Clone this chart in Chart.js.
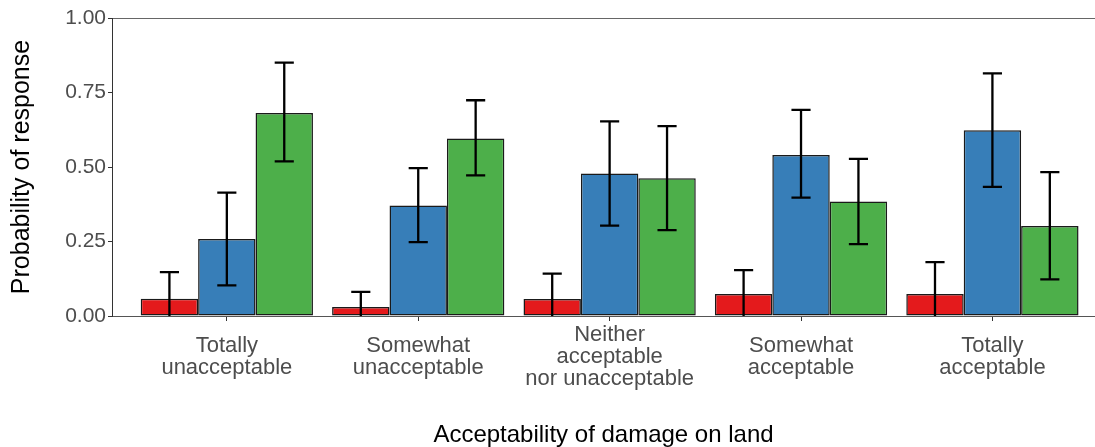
<!DOCTYPE html>
<html lang="en">
<head>
  <meta charset="UTF-8">
  <title>Acceptability of damage on land</title>
  <script src="https://cdn.jsdelivr.net/npm/chart.js"></script>
  <style>
    body {
      margin: 0;
      background: #fff;
    }

    .chart-container {
      position: relative;
      width: 1095px;
      height: 447px;
    }
  </style>
</head>
<body>
  <div class="chart-container">
    <canvas id="probChart"></canvas>
  </div>

  <script>
    const categories = [
      ['Totally', 'unacceptable'],
      ['Somewhat', 'unacceptable'],
      ['Neither', 'acceptable', 'nor unacceptable'],
      ['Somewhat', 'acceptable'],
      ['Totally', 'acceptable']
    ];
    const yTicks = [0, 0.25, 0.5, 0.75, 1];

    const redValues = [0.058, 0.030, 0.057, 0.074, 0.074];
    const redLow = [-0.03, -0.02, -0.03, -0.01, -0.03];
    const redHigh = [0.147, 0.081, 0.142, 0.154, 0.181];

    const blueValues = [0.258, 0.371, 0.478, 0.540, 0.623];
    const blueLow = [0.103, 0.248, 0.303, 0.397, 0.433];
    const blueHigh = [0.414, 0.496, 0.653, 0.692, 0.814];

    const greenValues = [0.681, 0.596, 0.462, 0.384, 0.302];
    const greenLow = [0.519, 0.472, 0.288, 0.241, 0.123];
    const greenHigh = [0.850, 0.724, 0.637, 0.527, 0.483];

    const toPoints = vals => vals.map((v, i) => ({ x: i + 1, y: v }));
    const fontFamily = "'Liberation Sans', Arial, sans-serif";

    // error bars, drawn from the y scale of the chart
    const errorBars = {
      id: 'errorBars',
      afterDatasetsDraw(chart) {
        const { ctx, chartArea, scales } = chart;
        ctx.save();
        ctx.beginPath();
        ctx.rect(chartArea.left, chartArea.top, chartArea.right - chartArea.left, chartArea.bottom - chartArea.top);
        ctx.clip();
        ctx.strokeStyle = '#000';
        ctx.lineWidth = 2.3;
        chart.data.datasets.forEach((ds, di) => {
          const meta = chart.getDatasetMeta(di);
          meta.data.forEach((bar, i) => {
            const x = bar.x;
            const half = bar.width / 6;
            const yLo = scales.y.getPixelForValue(ds.low[i]);
            const yHi = scales.y.getPixelForValue(ds.high[i]);
            ctx.beginPath();
            ctx.moveTo(x, yLo);
            ctx.lineTo(x, yHi);
            ctx.moveTo(x - half, yHi);
            ctx.lineTo(x + half, yHi);
            ctx.moveTo(x - half, yLo);
            ctx.lineTo(x + half, yLo);
            ctx.stroke();
          });
        });
        ctx.restore();
      }
    };

    const ctx = document.getElementById('probChart').getContext('2d');
    const probChart = new Chart(ctx, {
      type: 'bar',
      data: {
        datasets: [
          {
            label: 'Red',
            data: toPoints(redValues),
            low: redLow,
            high: redHigh,
            backgroundColor: '#E41A1C',
          },
          {
            label: 'Blue',
            data: toPoints(blueValues),
            low: blueLow,
            high: blueHigh,
            backgroundColor: '#377EB8',
          },
          {
            label: 'Green',
            data: toPoints(greenValues),
            low: greenLow,
            high: greenHigh,
            backgroundColor: '#4DAF4A',
          }
        ]
      },
      options: {
        responsive: true,
        maintainAspectRatio: false,
        animation: false,
        layout: { padding: 0 },
        datasets: {
          bar: {
            categoryPercentage: 0.9,
            barPercentage: 1.0,
            borderColor: '#1a1a1a',
            borderWidth: 1.5,
            borderSkipped: false,
          }
        },
        plugins: {
          legend: { display: false },
          tooltip: { enabled: false },
        },
        scales: {
          x: {
            type: 'linear',
            position: 'bottom',
            offset: false,
            min: 0.4,
            max: 5.536,
            afterBuildTicks: s => { s.ticks = categories.map((c, i) => ({ value: i + 1 })); },
            afterFit: s => { s.height = 131; },
            grid: {
              offset: false,
              drawOnChartArea: false,
              drawTicks: true,
              tickLength: 5,
              color: '#333',
            },
            border: { color: '#555', width: 1 },
            ticks: {
              autoSkip: false,
              maxRotation: 0,
              crossAlign: 'center',
              padding: 14,
              color: '#4d4d4d',
              font: { family: fontFamily, size: 22, lineHeight: 1.0 },
              callback: v => categories[Math.round(v) - 1],
            },
            title: {
              display: true,
              text: 'Acceptability of damage on land',
              color: '#000',
              padding: { top: 0, bottom: 0 },
              font: { family: fontFamily, size: 24, lineHeight: 1.0 },
            },
          },
          xTop: {
            type: 'linear',
            position: 'top',
            afterFit: s => { s.height = 18; },
            grid: { display: false },
            ticks: { display: false },
            border: { color: '#666', width: 1 },
          },
          y: {
            min: 0,
            max: 1,
            afterBuildTicks: s => { s.ticks = yTicks.map(v => ({ value: v })); },
            afterFit: s => { s.width = 112; },
            grid: {
              drawOnChartArea: false,
              drawTicks: true,
              tickLength: 4,
              color: '#333',
            },
            border: { color: '#333', width: 1 },
            ticks: {
              padding: 2,
              color: '#4d4d4d',
              font: { family: fontFamily, size: 21 },
              callback: v => v.toFixed(2),
            },
            title: {
              display: true,
              text: 'Probability of response',
              color: '#000',
              padding: { top: 10, bottom: 0 },
              font: { family: fontFamily, size: 25, lineHeight: 1.0 },
            },
          },
        },
      },
      plugins: [errorBars],
    });
  </script>
</body>
</html>
